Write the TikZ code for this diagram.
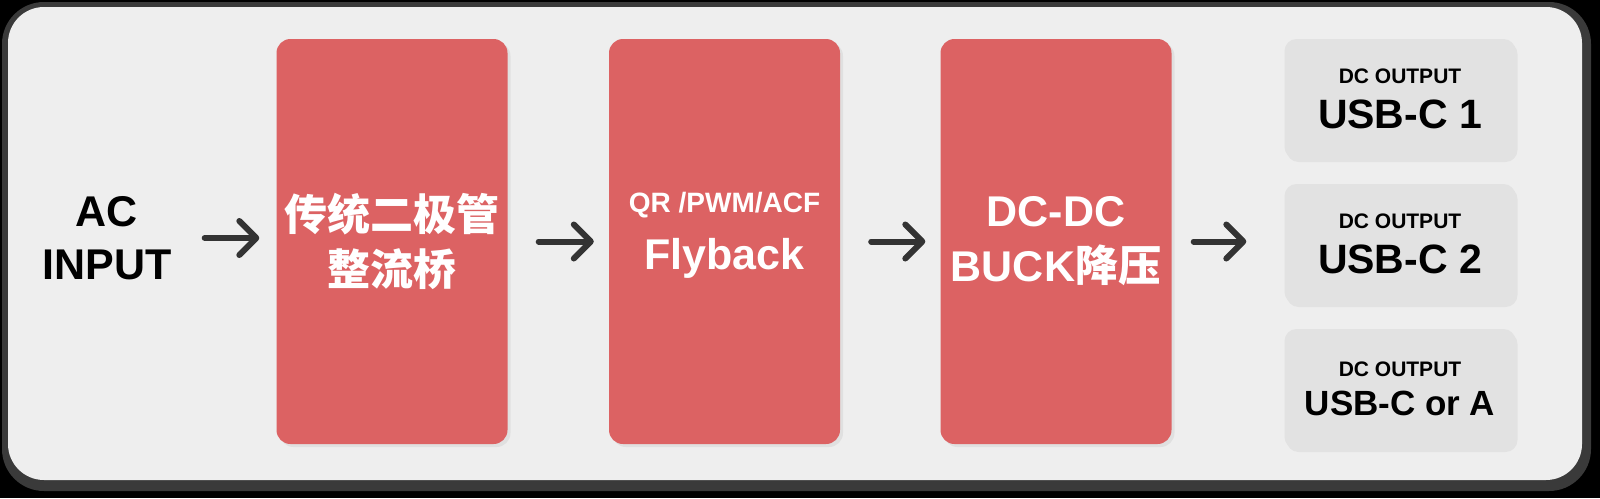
\documentclass[tikz,border=0pt]{standalone}
\usepackage{fontspec}
\setmainfont{Liberation Sans}
\newfontfamily\cjk{Noto Sans CJK SC}
\usetikzlibrary{arrows.meta,shadows}
\definecolor{panelbg}{HTML}{EEEEEE}
\definecolor{framegray}{HTML}{3A3A3A}
\definecolor{stagered}{HTML}{DC6263}
\definecolor{outgray}{HTML}{E2E2E2}
\definecolor{inkgray}{HTML}{333333}

\begin{document}
\begin{tikzpicture}[x=1pt, y=-1pt,
    stage/.style={fill=stagered, rounded corners=14pt, minimum width=231pt, minimum height=405pt,
                  inner sep=0pt, align=center, text=white, font=\fontsize{43}{55}\selectfont\bfseries,
                  drop shadow={opacity=0.12, shadow xshift=3pt, shadow yshift=-3pt}},
    outbox/.style={fill=outgray, rounded corners=12pt, minimum width=231pt, minimum height=120pt,
                   inner sep=0pt, align=center, text=black, font=\bfseries,
                   drop shadow={opacity=0.10, shadow xshift=2pt, shadow yshift=-3pt}},
    flow/.style={draw=inkgray, line width=6pt, line cap=round,
                 -{Straight Barb[round, length=17pt, width=34pt]},
                 shorten <=31pt, shorten >=15pt}
  ]
    % frame
    \fill[black] (0,0) rectangle (1600,498);
    \fill[framegray, rounded corners=42pt] (2,2) rectangle (1591,491);
    \fill[panelbg, rounded corners=36pt] (8,7) rectangle (1582,480);

    \node[align=center, inner sep=0pt, font=\fontsize{43}{53}\selectfont\bfseries] (acin) at (107,238) {AC\\INPUT};

    \node[stage] (bridge)  at (392,241.5)  {{\cjk 传统二极管}\\{\cjk 整流桥}};
    \node[stage, text depth=22pt] (flyback) at (724.5,241.5) {{\fontsize{28}{34}\selectfont QR /PWM/ACF}\\[2pt]Flyback};
    \node[stage] (buck)    at (1056,241.5) {DC-DC\\BUCK{\cjk 降压}};

    \node[outbox] (usb1) at (1400,99)  {{\fontsize{21}{26}\selectfont DC OUTPUT}\\[15pt]{\fontsize{41}{44}\selectfont USB-C 1}};
    \node[outbox] (usb2) at (1400,244) {{\fontsize{21}{26}\selectfont DC OUTPUT}\\[15pt]{\fontsize{41}{44}\selectfont USB-C 2}};
    \node[outbox] (usb3) at (1400,389) {{\fontsize{21}{26}\selectfont DC OUTPUT}\\[13pt]{\fontsize{35}{40}\selectfont USB-C or A}};

    \draw[flow, shorten <=33pt, shorten >=17pt] (acin.east) -- (acin.east -| bridge.west);
    \draw[flow] (bridge) -- (flyback);
    \draw[flow] (flyback) -- (buck);
    \draw[flow, shorten <=22pt, shorten >=38pt] (buck.east) -- (buck.east -| usb2.west);
  \end{tikzpicture}
\end{document}
